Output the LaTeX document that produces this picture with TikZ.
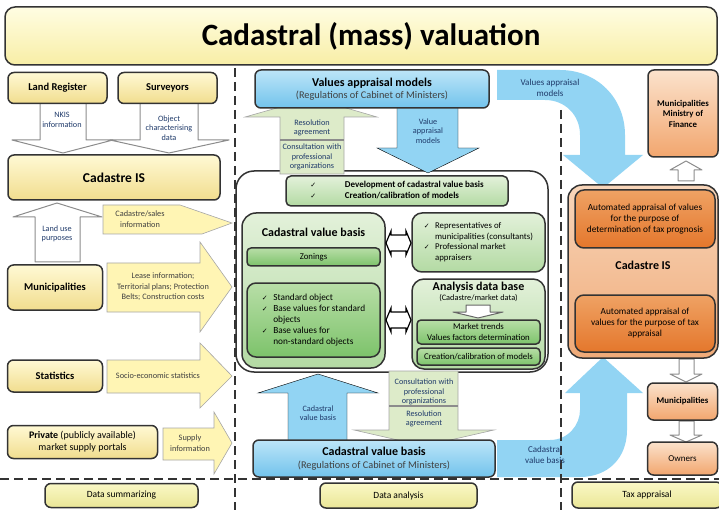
\documentclass[tikz,border=0pt]{standalone}
\usepackage{fontspec}
\setmainfont{Carlito}
\newfontfamily\symfont{DejaVu Sans}
\usepackage{tikz}
\newcommand{\chk}{{\symfont\fontsize{7}{8}\selectfont ✓}}
\definecolor{ytop}{HTML}{FFF9D4}
\definecolor{ybot}{HTML}{F1DD8E}
\definecolor{ttop}{HTML}{FFFDE2}
\definecolor{tbot}{HTML}{F8EEA6}
\definecolor{stop}{HTML}{FAF8C6}
\definecolor{sbot}{HTML}{EAE696}
\definecolor{btop}{HTML}{BCE5F8}
\definecolor{bbot}{HTML}{72C3EC}
\definecolor{skyarr}{HTML}{92D4F3}
\definecolor{gtop}{HTML}{E3F1DA}
\definecolor{gbot}{HTML}{B3DAA3}
\definecolor{dgtop}{HTML}{B8DEA7}
\definecolor{dgbot}{HTML}{7DC36B}
\definecolor{garr}{HTML}{DDEBC9}
\definecolor{ptop}{HTML}{FBE2CC}
\definecolor{pbot}{HTML}{F2A66E}
\definecolor{otop}{HTML}{F8D6BA}
\definecolor{obot}{HTML}{EFAA78}
\definecolor{dotop}{HTML}{EFA264}
\definecolor{dobot}{HTML}{E4772C}
\definecolor{yarr}{HTML}{FFF5B4}
\definecolor{navy}{HTML}{1F3A6A}
\tikzset{
  box/.style={draw=black!80, line width=1.5pt, rounded corners=6pt, align=center, inner sep=1pt},
  ybox/.style={box, top color=ytop, bottom color=ybot, font=\bfseries\fontsize{10.5}{12.5}\selectfont},
  tbox/.style={box, rounded corners=10pt, top color=ttop, bottom color=tbot, font=\bfseries\fontsize{31}{36}\selectfont},
  sbox/.style={box, top color=stop, bottom color=sbot, font=\fontsize{9.5}{11}\selectfont},
  bbox/.style={box, top color=btop, bottom color=bbot, font=\fontsize{10.3}{12.5}\selectfont},
  gbox/.style={box, top color=gtop, bottom color=gbot, font=\fontsize{8.8}{10.5}\selectfont},
  dgbox/.style={box, rounded corners=4pt, top color=dgtop, bottom color=dgbot, font=\fontsize{8.8}{10.5}\selectfont},
  pbox/.style={box, top color=ptop, bottom color=pbot, font=\bfseries\fontsize{8.8}{10.5}\selectfont},
  obox/.style={box, rounded corners=14pt, top color=otop, bottom color=obot},
  dobox/.style={box, rounded corners=9pt, top color=dotop, bottom color=dobot, font=\fontsize{9.3}{11}\selectfont},
  warrow/.style={fill=white, draw=black!45, line width=1pt, line join=round},
  yarrow/.style={fill=yarr, draw=black!35, line width=0.6pt},
  garrow/.style={fill=garr, draw=black!35, line width=0.6pt},
  barrow/.style={fill=skyarr},
  dblarrow/.style={fill=white, draw=black, line width=1.2pt},
  gline/.style={draw=black!45, line width=2pt},
  divider/.style={draw=black!80, line width=1.5pt, dash pattern=on 9pt off 5pt},
  atext/.style={align=center, text=navy, font=\fontsize{8.2}{9.6}\selectfont},
  ctext/.style={align=center, text=navy, font=\fontsize{9}{11}\selectfont},
  ytext/.style={align=center, text=black!75, font=\fontsize{8.3}{10.5}\selectfont},
}

\begin{document}
\begin{tikzpicture}[x=1pt,y=-1pt]
\useasboundingbox (0,0) rectangle (719,510);

% block arrows, left column
\draw[warrow] (40,100) -- (40,140) -- (12,140) -- (63,153) -- (113,140) -- (86,140) -- (86,100) -- cycle;
\draw[warrow] (140,100) -- (140,140) -- (110,140) -- (169,153) -- (229,140) -- (198,140) -- (198,100) -- cycle;
\draw[warrow] (35,262) -- (35,217) -- (13,217) -- (57,203) -- (102,217) -- (80,217) -- (80,262) -- cycle;
\draw[yarrow] (103,205) -- (180,205) -- (232,223) -- (202,234) -- (103,234) -- cycle;
\draw[yarrow] (107,263) -- (200,263) -- (200,242) -- (232,287) -- (200,332) -- (200,312) -- (107,312) -- cycle;
\draw[yarrow] (107,360) -- (200,360) -- (200,343) -- (232,376) -- (200,408) -- (200,393) -- (107,393) -- cycle;
\draw[yarrow] (163,428) -- (214,428) -- (214,412) -- (232,443) -- (214,474) -- (214,460) -- (163,460) -- cycle;

% curved arrows, right column
\fill[barrow] (497,70) -- (560,70) .. controls (597,70) and (625,98) .. (625,135) -- (625,155) -- (643,155) -- (603,188)
  -- (563,155) -- (580,155) -- (580,135) .. controls (580,115) and (565,100) .. (545,100) -- (497,100) -- cycle;
\fill[barrow] (497,440) -- (550,440) .. controls (568,440) and (580,425) .. (580,410) -- (580,393) -- (565,393) -- (603,357)
  -- (643,393) -- (627,393) -- (627,430) .. controls (627,458) and (608,477) .. (580,477) -- (497,477) -- cycle;
\draw[warrow] (678,181) -- (678,170) -- (670,170) -- (686,161) -- (702,170) -- (694,170) -- (694,181) -- cycle;
\draw[warrow] (679,359) -- (679,374) -- (670,374) -- (686,382) -- (702,374) -- (694,374) -- (694,359) -- cycle;
\draw[warrow] (679,421) -- (679,435) -- (670,435) -- (686,442) -- (702,435) -- (694,435) -- (694,421) -- cycle;

% section borders
\draw[divider] (235,68) -- (235,510);
\draw[divider] (561,110) -- (561,510);
\draw[divider] (0,479) -- (719,479);

\node[tbox, minimum width=712pt, minimum height=58pt] (title) at (361,36) {\hspace*{20pt}Cadastral (mass) valuation};

% data summarizing
\node[ybox, minimum width=99pt, minimum height=31pt] (landreg) at (57.5,88) {Land Register};
\node[ybox, minimum width=99pt, minimum height=31pt] (surv) at (167.5,88) {Surveyors};
\node[ybox, minimum width=212pt, minimum height=45pt, font=\bfseries\fontsize{13.5}{16}\selectfont] (cadis) at (114,177.5) {Cadastre IS};
\node[ybox, minimum width=95pt, minimum height=45pt] (munic) at (55,287.5) {Municipalities};
\node[ybox, minimum width=95pt, minimum height=32pt] (stat) at (55,376) {Statistics};
\node[ybox, minimum width=150pt, minimum height=33pt, font=\fontsize{10}{12}\selectfont] (priv) at (82.5,442)
  {\textbf{Private} (publicly available)\\market supply portals};
\node[sbox, minimum width=153pt, minimum height=24pt] (summ) at (121.5,495.5) {Data summarizing};
\node[atext] (nkis) at (62,120) {NKIS\\information};
\node[atext] (objd) at (169,128) {Object\\characterising\\data};
\node[atext] (luse) at (57,234) {Land use\\purposes};
\node[ytext] (sales) at (140,219) {Cadastre/sales\\information};
\node[ytext] (lease) at (163,287) {Lease information;\\Territorial plans; Protection\\Belts; Construction costs};
\node[ytext] (socio) at (158,376) {Socio-economic statistics};
\node[ytext] (supp) at (190,443) {Supply\\information};

% data analysis
\node[box, fill=white, rounded corners=18pt, minimum width=312pt, minimum height=201pt] (outer) at (392,271.5) {};
\draw[garrow] (280,174) -- (280,117) -- (245,117) -- (312,98) -- (377,117) -- (344,117) -- (344,174) -- cycle;
\draw[gline] (280,140) -- (344,140);
\draw[barrow] (397,105) -- (397,148) -- (377,148) -- (428,173) -- (479,148) -- (458,148) -- (458,105) -- cycle;
\draw[barrow] (288,441) -- (288,393) -- (258,393) -- (318,374) -- (378,393) -- (347,393) -- (347,441) -- cycle;
\draw[garrow] (389,371) -- (389,430) -- (354,430) -- (424,446) -- (494,430) -- (458,430) -- (458,371) -- cycle;
\draw[gline] (389,406) -- (458,406);
\node[bbox, minimum width=234pt, minimum height=38pt] (vam) at (372,89)
  {\textbf{\fontsize{12}{14}\selectfont Values appraisal models}\\{\color{black!75}(Regulations of Cabinet of Ministers)}};
\node[gbox, rounded corners=5pt, minimum width=222pt, minimum height=30pt, font=\bfseries\fontsize{9}{10.5}\selectfont] (devel) at (397,191)
  {\begin{tabular}{@{}l@{\hspace{3.2em}}l@{}}\chk & Development of cadastral value basis\\ \chk & Creation/calibration of models\end{tabular}};
\node[gbox, rounded corners=14pt, minimum width=143pt, minimum height=155pt] (cvb) at (313.5,290.5) {};
\node[font=\bfseries\fontsize{12}{14}\selectfont] (cvbt) at (313.5,232) {Cadastral value basis};
\node[dgbox, minimum width=133pt, minimum height=18pt] (zon) at (313.5,257) {Zonings};
\node[dgbox, rounded corners=9pt, minimum width=133pt, minimum height=74pt, font=\fontsize{9.3}{11}\selectfont] (stdo) at (313.5,320)
  {\begin{tabular}{@{}l@{\hspace{0.6em}}l@{}}\chk & Standard object\\ \chk & Base values for standard\\ & objects\\ \chk & Base values for\\ & non-standard objects\end{tabular}};
\node[gbox, rounded corners=10pt, minimum width=133pt, minimum height=59pt] (repr) at (478.5,242.5)
  {\begin{tabular}{@{}l@{\hspace{0.6em}}l@{}}\chk & Representatives of\\ & municipalities (consultants)\\ \chk & Professional market\\ & appraisers\end{tabular}};
\node[gbox, rounded corners=12pt, minimum width=133pt, minimum height=90pt] (adb) at (478.5,324) {};
\node[align=center, font=\fontsize{8.3}{9.5}\selectfont] (adbt) at (478.5,292)
  {\textbf{\fontsize{12}{13}\selectfont Analysis data base}\\(Cadastre/market data)};
\draw[warrow, draw=black!60] (466,305) -- (490,305) -- (490,312) -- (503,312) -- (478,318) -- (453,312) -- (466,312) -- cycle;
\node[dgbox, minimum width=123pt, minimum height=24pt] (mtr) at (478.5,332) {Market trends\\Values factors determination};
\node[dgbox, minimum width=123pt, minimum height=17pt] (calib) at (478.5,356.5) {Creation/calibration of models};
\draw[dblarrow] (386,243) -- (391,231) -- (391,235) -- (406,235) -- (406,231) -- (411,243) -- (406,255) -- (406,251) -- (391,251) -- (391,255) -- cycle;
\draw[dblarrow] (386,320) -- (391,308) -- (391,312) -- (406,312) -- (406,308) -- (411,320) -- (406,332) -- (406,328) -- (391,328) -- (391,332) -- cycle;
\node[bbox, minimum width=242pt, minimum height=37pt] (cvb2) at (374,458.5)
  {\textbf{\fontsize{12}{14}\selectfont Cadastral value basis}\\{\color{black!75}(Regulations of Cabinet of Ministers)}};
\node[sbox, minimum width=157pt, minimum height=25pt] (dana) at (398.5,495.5) {Data analysis};
\node[atext] (rag1) at (312,128) {Resolution\\agreement};
\node[atext] (cons1) at (312,157) {Consultation with\\professional\\organizations};
\node[atext] (vamt) at (428,131) {Value\\appraisal\\models};
\node[atext] (cvbu) at (318,413) {Cadastral\\value basis};
\node[atext] (cons2) at (424,392) {Consultation with\\professional\\organizations};
\node[atext] (rag2) at (424,419) {Resolution\\agreement};

% tax appraisal
\node[pbox, minimum width=70pt, minimum height=87pt] (minfin) at (683,113.5) {Municipalities\\Ministry of\\Finance};
\node[obox, minimum width=150pt, minimum height=173pt] (cadis2) at (643,271.5) {};
\node[font=\bfseries\fontsize{12}{14}\selectfont] (cadis2t) at (643,265) {Cadastre IS};
\node[dobox, minimum width=140pt, minimum height=58pt] (auto1) at (645,219)
  {Automated appraisal of values\\for the purpose of\\determination of tax prognosis};
\node[dobox, minimum width=140pt, minimum height=57pt] (auto2) at (645,323.5)
  {Automated appraisal of\\values for the purpose of tax\\appraisal};
\node[pbox, minimum width=70pt, minimum height=37pt] (munic2) at (682.5,401.5) {Municipalities};
\node[pbox, font=\fontsize{9}{11}\selectfont, minimum width=70pt, minimum height=33pt] (owners) at (682.5,458.5) {Owners};
\node[sbox, minimum width=150pt, minimum height=26pt] (taxapp) at (647,495) {Tax appraisal};
\node[ctext] (vamc) at (550,88) {Values appraisal\\models};
\node[ctext] (cvbc) at (545,455) {Cadastral\\value basis};
\end{tikzpicture}
\end{document}
